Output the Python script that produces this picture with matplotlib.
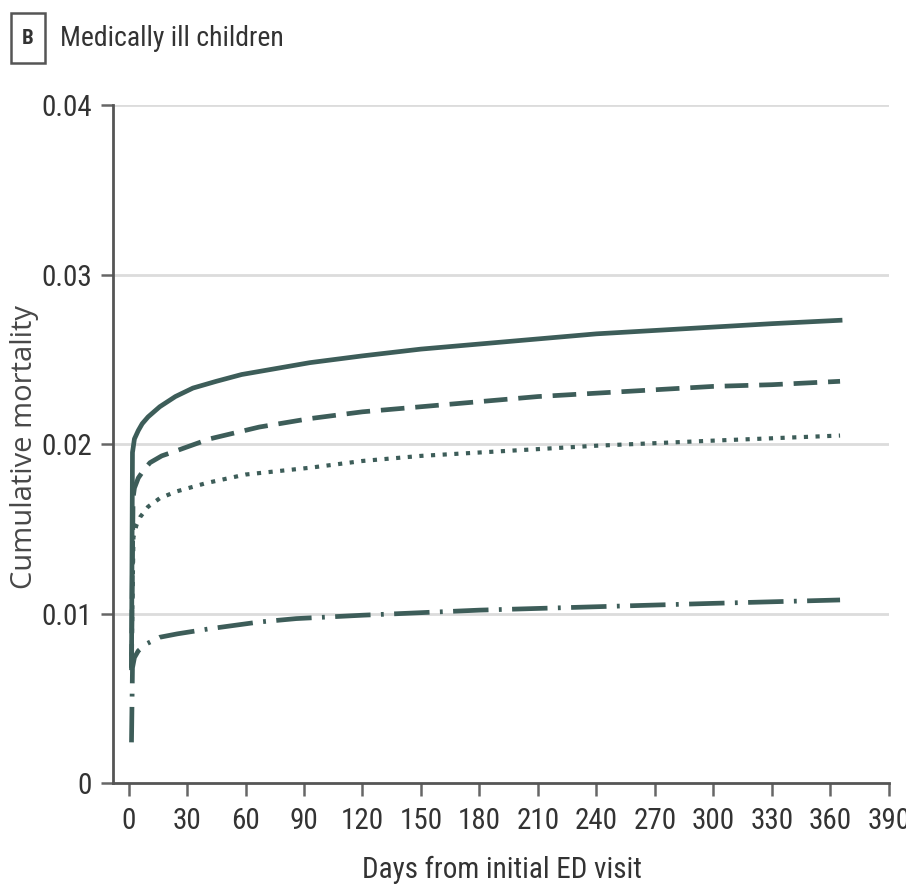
import matplotlib.pyplot as plt
from matplotlib import font_manager
from matplotlib.patches import Rectangle

# values (days, cumulative mortality)
solid_days = [1.5, 2, 3, 5, 7, 10, 16, 24, 33, 45, 58, 93, 120, 150, 180, 210, 240, 270, 300, 330, 365]
solid_vals = [0.0068, 0.0195, 0.0203, 0.0208, 0.0212, 0.0216, 0.0222, 0.0228, 0.0233, 0.0237, 0.0241, 0.0248, 0.0252, 0.0256, 0.0259, 0.0262, 0.0265, 0.0267, 0.0269, 0.0271, 0.0273]

dashed_days = [1.5, 2.3, 3, 5, 8, 11, 17, 24.5, 41.5, 67, 93, 120, 150, 180, 210, 240, 270, 300, 330, 365]
dashed_vals = [0.0068, 0.0168, 0.0174, 0.0180, 0.0185, 0.0189, 0.0193, 0.0196, 0.0203, 0.0210, 0.0215, 0.0219, 0.0222, 0.0225, 0.0228, 0.0230, 0.0232, 0.0234, 0.0235, 0.0237]

dotted_days = [1.5, 2.5, 4, 6, 10, 16, 24.5, 40, 60, 93, 120, 150, 180, 240, 300, 365]
dotted_vals = [0.0068, 0.0145, 0.0152, 0.0157, 0.0163, 0.0168, 0.0172, 0.0177, 0.0182, 0.0186, 0.0190, 0.0193, 0.0195, 0.0199, 0.0202, 0.0205]

dashdot_days = [1.5, 2, 3, 5, 9, 16, 25, 41.5, 67, 86, 120, 180, 240, 300, 365]
dashdot_vals = [0.0024, 0.0068, 0.0074, 0.0078, 0.0082, 0.0086, 0.0088, 0.0091, 0.0095, 0.0097, 0.0099, 0.0102, 0.0104, 0.0106, 0.0108]

xticks = list(range(0, 391, 30))
yticks = [0, 0.01, 0.02, 0.03, 0.04]
ylabels = ["0", "0.01", "0.02", "0.03", "0.04"]

col = "#3d5d59"
txt = "#333333"

# pick a narrow face if one is around
names = {f.name for f in font_manager.fontManager.ttflist}
narrow = "DejaVu Sans"
for cand in ["Liberation Sans Narrow", "Roboto Condensed", "Open Sans Condensed", "Noto Sans Condensed"]:
    if cand in names:
        narrow = cand
        break
nkw = dict(family=narrow, stretch="condensed")

fig = plt.figure(figsize=(9.06, 8.9), dpi=100)
ax = fig.add_axes([0.1247, 0.1202, 0.8563, 0.7618])

for y in yticks[1:]:
    ax.axhline(y, color="#dcdcdc", lw=2, zorder=0)

ax.plot(solid_days, solid_vals, color=col, lw=3.4)
ax.plot(dashed_days, dashed_vals, color=col, lw=3.4, linestyle=(0, (5, 2.3)))
ax.plot(dotted_days, dotted_vals, color=col, lw=3.0, linestyle=(0, (1, 1.8)))
ax.plot(dashdot_days, dashdot_vals, color=col, lw=3.4, linestyle=(0, (7.5, 2.2, 0.6, 2.2)))

ax.set_xlim(-8, 390)
ax.set_ylim(0, 0.04)
ax.set_xticks(xticks)
ax.set_xticklabels([str(t) for t in xticks], fontsize=21, color=txt, **nkw)
ax.set_yticks(yticks)
ax.set_yticklabels(ylabels, fontsize=21, color=txt, **nkw)
ax.tick_params(axis="both", length=9, width=1.8, color="#666666", pad=6)
ax.tick_params(axis="x", pad=8)

for s in ["top", "right"]:
    ax.spines[s].set_visible(False)
for s in ["left", "bottom"]:
    ax.spines[s].set_color("#555555")
    ax.spines[s].set_linewidth(2)

fig.text(502 / 906, 1 - 870 / 890, "Days from initial ED visit", fontsize=21, color=txt,
         ha="center", va="center", **nkw)
fig.text(25 / 906, 1 - 447 / 890, "Cumulative mortality", family="Open Sans", fontsize=21,
         color="#484848", rotation=90, ha="center", va="center")

fig.patches.append(Rectangle((11 / 906, 1 - 63 / 890), 34 / 906, 50 / 890,
                             transform=fig.transFigure, fill=False, ec="#555555", lw=1.8))
fig.text(28 / 906, 1 - 38 / 890, "B", fontsize=15, weight="bold",
         color=txt, ha="center", va="center", **nkw)
fig.text(60 / 906, 1 - 38 / 890, "Medically ill children", fontsize=20,
         color=txt, ha="left", va="center", **nkw)

fig.savefig("out.png", dpi=100)
